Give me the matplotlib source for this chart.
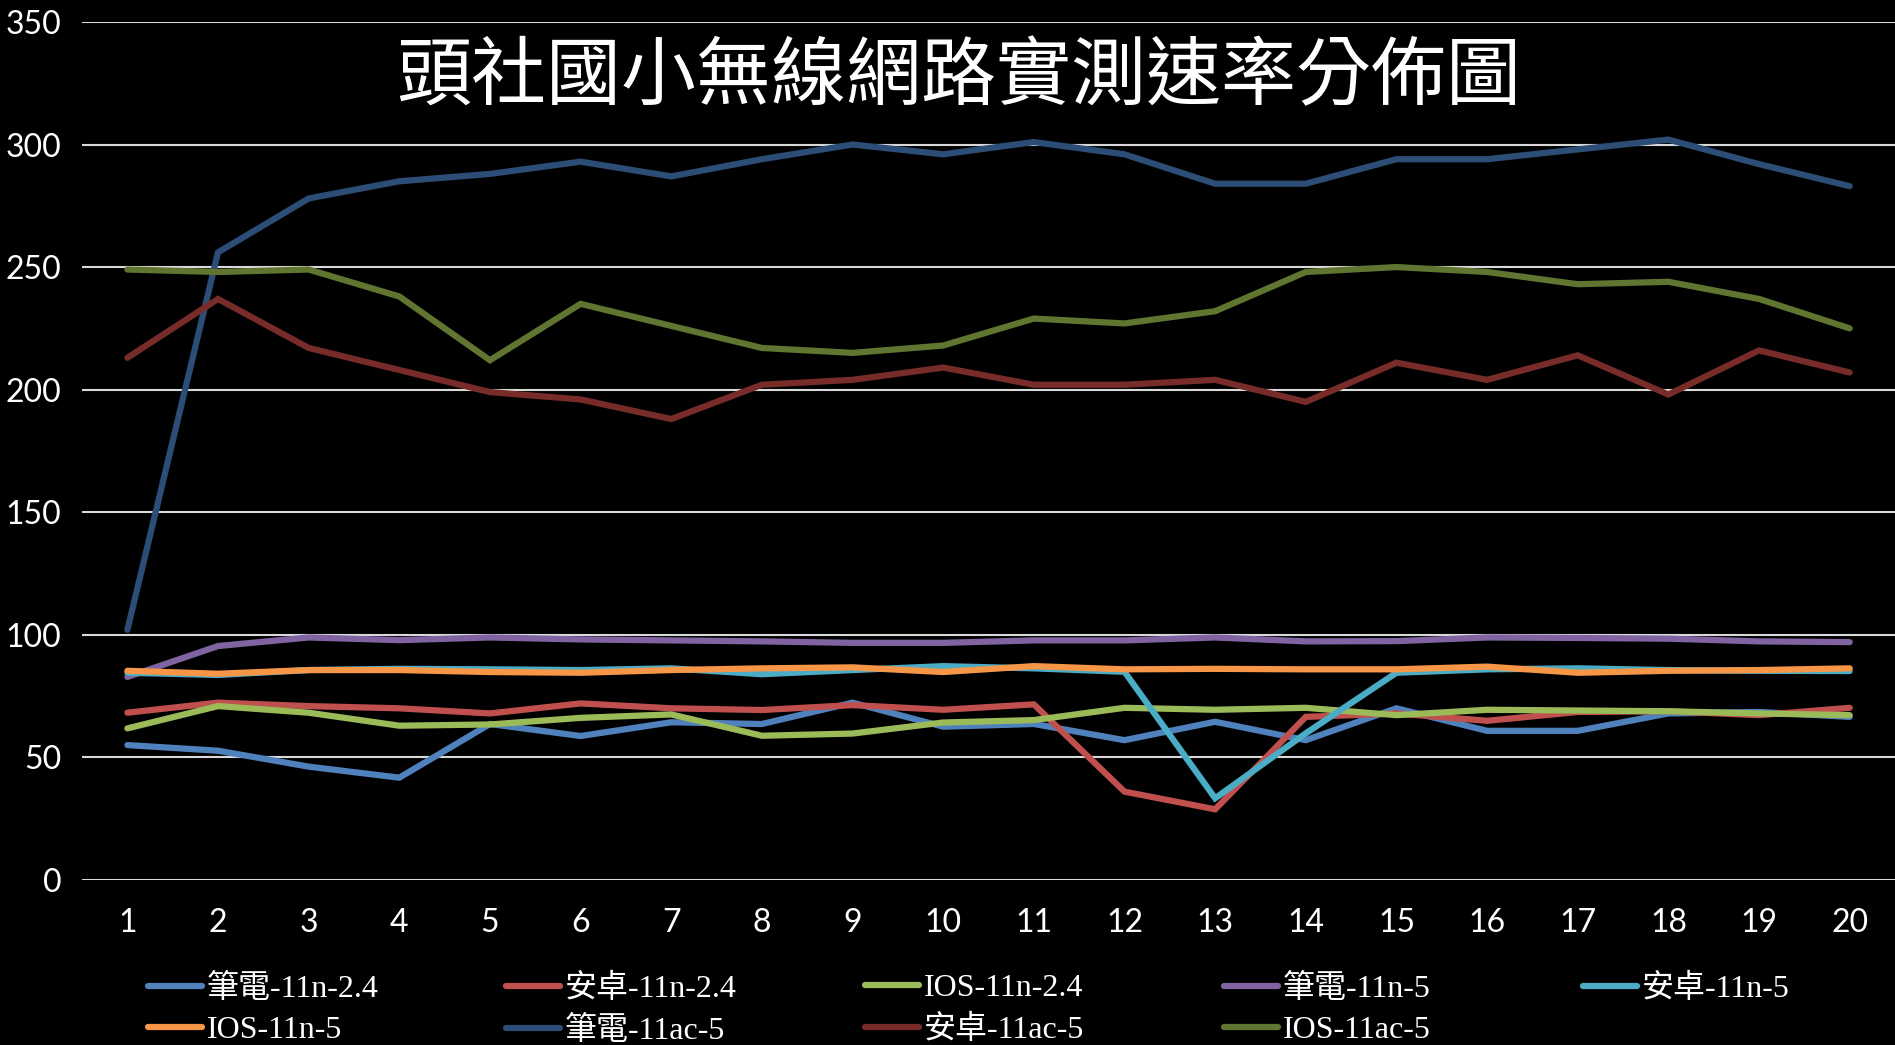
import matplotlib.pyplot as plt

# 測試點編號 1~20
points = list(range(1, 21))

labels = ["筆電-11n-2.4", "安卓-11n-2.4", "IOS-11n-2.4", "筆電-11n-5", "安卓-11n-5",
          "IOS-11n-5", "筆電-11ac-5", "安卓-11ac-5", "IOS-11ac-5"]

nb_11n_24 = [55, 52.7, 46.2, 41.7, 63.6, 58.7, 64.3, 63.6, 72.3, 62.5,
             63.6, 57, 64.5, 57, 70, 60.8, 60.8, 67.9, 68.5, 66.5]
ad_11n_24 = [68.2, 72.3, 70.9, 70, 67.9, 72, 70, 69.3, 71.3, 69.4,
             71.6, 36, 28.8, 66.5, 67.9, 64.9, 68.5, 68.8, 67.2, 70.2]
ios_11n_24 = [61.8, 70.9, 68.2, 62.9, 63.4, 66.1, 67.5, 58.8, 59.7, 64.2,
              65.2, 70.2, 69.4, 70.2, 67.2, 69.4, 69.1, 68.8, 67.9, 67.2]
nb_11n_5 = [82.8, 95.4, 98.9, 97.8, 98.9, 98.1, 97.7, 97.3, 96.7, 96.7,
            97.7, 97.7, 98.9, 97.3, 97.4, 98.9, 98.7, 98.4, 97.3, 97]
ad_11n_5 = [84.5, 83.6, 85.6, 86.1, 85.9, 85.6, 86.3, 83.9, 85.6, 87.2,
            86.3, 84.9, 33.3, 59.8, 84.5, 85.9, 86.3, 85.6, 85.3, 85.2]
ios_11n_5 = [85.3, 84.1, 85.6, 85.6, 84.8, 84.5, 85.6, 86.3, 86.7, 84.8,
             87.2, 85.9, 86.1, 85.9, 85.9, 87, 84.5, 85.3, 85.6, 86.3]
nb_11ac_5 = [102, 256, 278, 285, 288, 293, 287, 294, 300, 296,
             301, 296, 284, 284, 294, 294, 298, 302, 292, 283]
ad_11ac_5 = [213, 237, 217, 208, 199, 196, 188, 202, 204, 209,
             202, 202, 204, 195, 211, 204, 214, 198, 216, 207]
ios_11ac_5 = [249, 248, 249, 238, 212, 235, 226, 217, 215, 218,
              229, 227, 232, 248, 250, 248, 243, 244, 237, 225]

series = [nb_11n_24, ad_11n_24, ios_11n_24, nb_11n_5, ad_11n_5,
          ios_11n_5, nb_11ac_5, ad_11ac_5, ios_11ac_5]
colors = ["#4F81BD", "#C0504D", "#9BBB59", "#8064A2", "#4BACC6",
          "#F79646", "#2C4D75", "#772C2A", "#5F7530"]

num_font = "Lato"
cjk_font = ["Liberation Serif", "Noto Sans CJK TC"]

fig = plt.figure(figsize=(18.95, 10.45), dpi=100, facecolor="black")
ax = fig.add_axes([0.0433, 0.158, 0.9567, 0.821])
ax.set_facecolor("black")

handles = []
for vals, lab, c in zip(series, labels, colors):
    h, = ax.plot(points, vals, color=c, lw=4.5, label=lab,
                 solid_joinstyle="miter", solid_capstyle="round")
    handles.append(h)

ax.set_xlim(0.5, 20.5)
ax.set_ylim(0, 350)
ax.set_yticks(range(0, 351, 50))
ax.set_xticks(points)
ax.yaxis.grid(True, color="#D9D9D9", lw=1.5)
ax.set_axisbelow(True)
for s in ax.spines.values():
    s.set_visible(False)
ax.tick_params(length=0, colors="white", labelsize=23)
ax.tick_params(axis="y", pad=15)
ax.tick_params(axis="x", pad=20)
for t in ax.get_xticklabels() + ax.get_yticklabels():
    t.set_fontfamily(num_font)

fig.text(0.506, 0.9257, "頭社國小無線網路實測速率分佈圖", color="white",
         fontsize=54, ha="center", va="center",
         family=["Noto Sans CJK TC"], fontweight="light")

# 圖例：五欄橫向排列，每欄各自定位
col_x = [0.0712, 0.2601, 0.4496, 0.6390, 0.8285]
for k, x0 in enumerate(col_x):
    idx = [i for i in (k, k + 5) if i < len(labels)]
    leg = fig.legend([handles[i] for i in idx], [labels[i] for i in idx],
                     loc="upper left", bbox_to_anchor=(x0, 0.0805),
                     frameon=False, handlelength=1.7, handletextpad=0.15,
                     labelspacing=0.38, borderaxespad=0,
                     prop={"family": cjk_font, "size": 23})
    for t in leg.get_texts():
        t.set_color("white")

fig.savefig("out.png", dpi=100, facecolor="black")
